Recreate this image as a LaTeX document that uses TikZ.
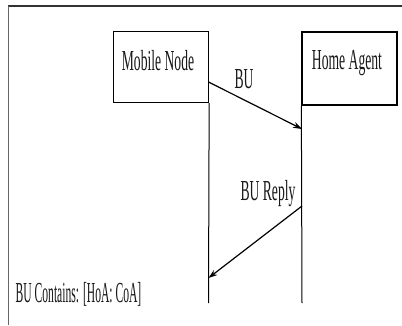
\documentclass[tikz,border=0pt]{standalone}
\usepackage{fontspec}
\setmainfont{Liberation Serif}
\usepackage{graphicx}
\usetikzlibrary{arrows.meta}
\newcommand\sqz[2][0.47]{\scalebox{#1}[1]{#2}}
\tikzset{
  box/.style={draw=black, line width=1.3pt, minimum width=95pt, minimum height=71pt, inner sep=0pt},
  lbl/.style={inner sep=0pt, text=black!90, font=\fontsize{29}{29}\selectfont},
  life/.style={draw=black, line width=1pt},
  msg/.style={draw=black, line width=1.2pt, -{Stealth[length=9pt,width=6pt]}},
}
\begin{document}
\begin{tikzpicture}[x=1pt,y=-1pt]
\useasboundingbox (0,0) rectangle (402,325);
\fill[white] (0,0) rectangle (402,325);
% frame
\draw[black!80, line width=2pt] (8,6) -- (402,6);
\draw[black!60, line width=0.9pt] (8,6) -- (8,325);
% boxes
\node[box] (mn) at (161,67) {};
\node[box, minimum height=73pt] (ha) at (349.5,68.5) {};
\node[lbl] (mnt) at (158,61) {\sqz{Mobile Node}};
\node[lbl] (hat) at (347,63) {\sqz{Home Agent}};
% lifelines
\coordinate (mnend) at (208.5,303);
\coordinate (haend) at (302,303);
\draw[life] (mn.south east) -- (mnend);
\draw[life] (ha.south west) -- (haend);
% messages
\coordinate (bus) at (208.5,82);
\coordinate (bue) at (302,129);
\draw[msg] (bus) -- (bue);
\node[lbl] (bul) at (244,79) {\sqz{BU}};
\coordinate (brs) at (302,206);
\coordinate (bre) at (208.5,278);
\draw[msg] (brs) -- (bre);
\node[lbl] (brl) at (268,194) {\sqz{BU Reply}};
\node[lbl] (note) at (78.5,294) {\sqz[0.40]{BU Contains: [HoA: CoA]}};
\end{tikzpicture}
\end{document}
